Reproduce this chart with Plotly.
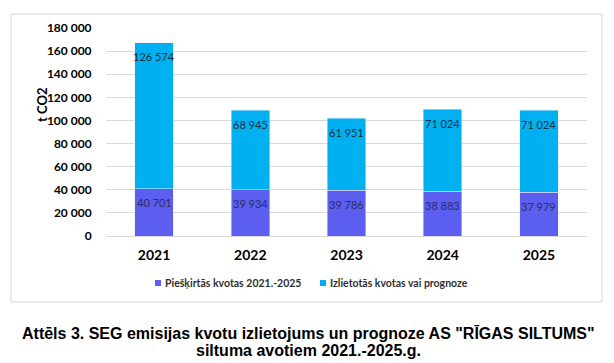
import plotly.graph_objects as go

years = ["2021", "2022", "2023", "2024", "2025"]
allocated = [40701, 39934, 39786, 38883, 37979]
used = [126574, 68945, 61951, 71024, 71024]
series_names = ["Piešķirtās kvotas 2021.-2025", "Izlietotās kvotas vai prognoze"]
y_ticks = [0, 20000, 40000, 60000, 80000, 100000, 120000, 140000, 160000, 180000]
caption_lines = ['Attēls 3. SEG emisijas kvotu izlietojums un prognoze AS "RĪGAS SILTUMS"',
                 "siltuma avotiem 2021.-2025.g."]
y_title = "t CO2"

c_alloc = "#5B5EEE"
c_used = "#00B0F0"

W, H = 614, 363
L, R, T, B = 106, 587, 28, 236  # plot area in pixels


def px(x):
    return (x - L) / (R - L)


def py(y):
    return (B - y) / (B - T)


def fmt(v):
    return f"{v:,}".replace(",", " ")


fig = go.Figure()
fig.add_trace(go.Bar(x=years, y=allocated, name=series_names[0], marker_color=c_alloc,
                     width=0.4, hoverinfo="y"))
fig.add_trace(go.Bar(x=years, y=used, name=series_names[1], marker_color=c_used,
                     width=0.4, hoverinfo="y"))

ann = []
for i, yr in enumerate(years):
    ann.append(dict(x=i, y=allocated[i], xref="x", yref="y", text=fmt(allocated[i]),
                    showarrow=False, yshift=-14, font=dict(family="Lato", size=11, color="#2c2c66")))
    ann.append(dict(x=i, y=allocated[i] + used[i], xref="x", yref="y", text=fmt(used[i]),
                    showarrow=False, yshift=-14, font=dict(family="Lato", size=11, color="#18303e")))

# y axis title
ann.append(dict(x=px(42), y=py(105), xref="paper", yref="paper", text=f"<b>{y_title}</b>", textangle=-90,
                showarrow=False, font=dict(family="Lato", size=13, color="#000000"),
                xanchor="center", yanchor="middle"))

# custom legend
legend_items = [(155, series_names[0], c_alloc), (320, series_names[1], c_used)]
shapes = []
for x0, name, col in legend_items:
    shapes.append(dict(type="rect", xref="paper", yref="paper", x0=px(x0), x1=px(x0 + 6),
                       y0=py(286), y1=py(280), fillcolor=col, line=dict(width=0)))
    ann.append(dict(x=px(x0 + 8), y=py(283), xref="paper", yref="paper", text=f"<b>{name}</b>",
                    showarrow=False, xanchor="left", yanchor="middle",
                    font=dict(family="Lato", size=10.5, color="#303030")))

# caption
for yy, line in zip([333, 350], caption_lines):
    ann.append(dict(x=px(308), y=py(yy), xref="paper", yref="paper", text=f"<b>{line}</b>",
                    showarrow=False, xanchor="center", yanchor="middle",
                    font=dict(family="Liberation Sans, Arial", size=16, color="#000000")))

# chart border
shapes.append(dict(type="rect", xref="paper", yref="paper", x0=px(11), x1=px(602),
                   y0=py(302), y1=py(14), line=dict(color="#d9d9d9", width=1),
                   fillcolor="rgba(0,0,0,0)", layer="below"))

fig.update_layout(
    width=W, height=H,
    margin=dict(l=L, r=W - R, t=T, b=H - B, pad=0),
    barmode="stack",
    showlegend=False,
    plot_bgcolor="white",
    paper_bgcolor="white",
    separators=". ",
    annotations=ann,
    shapes=shapes,
    xaxis=dict(type="category", range=[-0.5, 4.5], showgrid=False, showline=True,
               linecolor="#d9d9d9", linewidth=1,
               ticks="outside", ticklen=6, tickcolor="rgba(0,0,0,0)",
               tickfont=dict(family="Lato", size=14, color="#000000", weight="bold"),
               fixedrange=True),
    yaxis=dict(range=[0, 180000], tickvals=y_ticks, ticktext=[fmt(v) for v in y_ticks],
               showgrid=True, gridcolor="#d9d9d9", gridwidth=1, zeroline=False,
               ticks="outside", ticklen=11, tickcolor="rgba(0,0,0,0)",
               tickfont=dict(family="Lato", size=12, color="#000000", weight="bold"),
               fixedrange=True),
)

fig.write_html("out.html", config={"displayModeBar": False},
               post_script="document.body.style.margin='0';document.body.style.overflow='hidden';")
